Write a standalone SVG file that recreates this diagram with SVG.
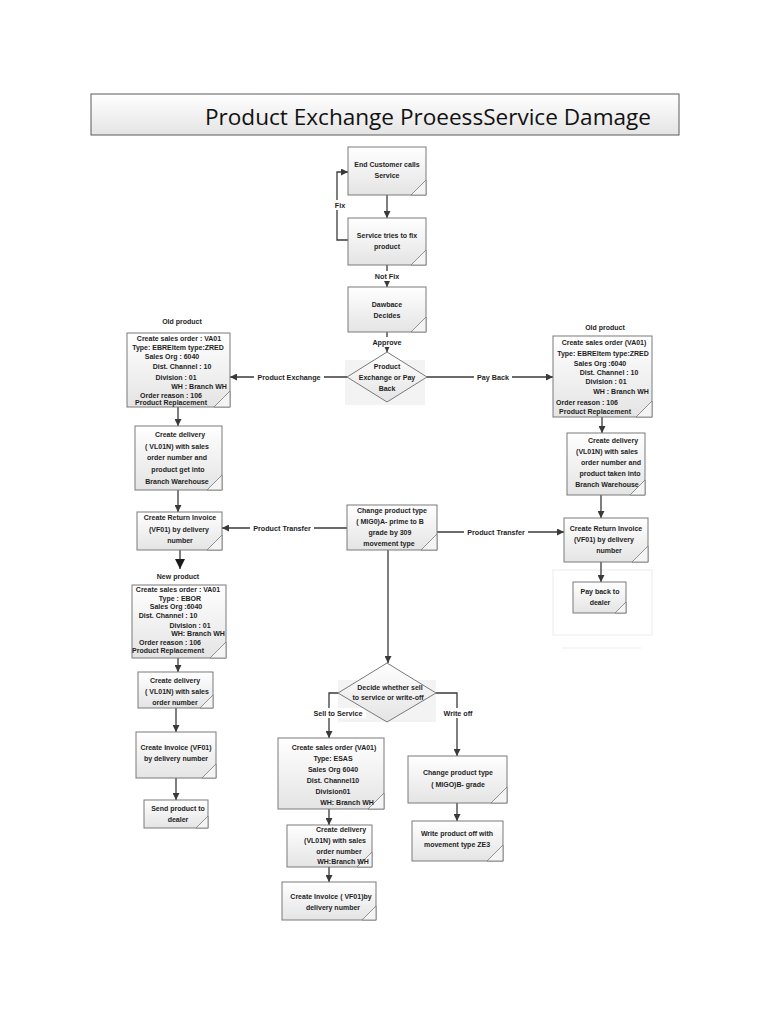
<svg xmlns="http://www.w3.org/2000/svg" width="768" height="1024" viewBox="0 0 768 1024">
<defs>
<linearGradient id="g" x1="0" y1="0" x2="0" y2="1">
<stop offset="0" stop-color="#ffffff"/>
<stop offset="1" stop-color="#e4e4e4"/>
</linearGradient>
<marker id="ah" viewBox="0 0 10 10" refX="10" refY="5" markerWidth="7" markerHeight="7" markerUnits="userSpaceOnUse" orient="auto">
<path d="M0,0 L10,5 L0,10 z" fill="#3a3a3a"/>
</marker>
<marker id="ahb" viewBox="0 0 10 10" refX="10" refY="5" markerWidth="10" markerHeight="10" markerUnits="userSpaceOnUse" orient="auto">
<path d="M0,0 L10,5 L0,10 z" fill="#1a1a1a"/>
</marker>
</defs>
<style>
.box{fill:url(#g);stroke:#7a7a7a;stroke-width:1}
.fold{fill:#f4f4f4;stroke:#7a7a7a;stroke-width:0.8}
.t{font-family:"Liberation Sans",Arial,sans-serif;font-size:7px;font-weight:bold;fill:#1e1e1e;text-anchor:middle}
.lbl{font-family:"Liberation Sans",Arial,sans-serif;font-size:7.2px;font-weight:bold;fill:#1e1e1e;text-anchor:middle}
.ln{fill:none;stroke:#3a3a3a;stroke-width:1.3}
.lb{fill:#ffffff}
.faint{fill:none;stroke:#ececec;stroke-width:1}
</style>
<rect width="768" height="1024" fill="#ffffff"/>

<g id="title">
<rect x="91" y="94" width="588" height="41" fill="url(#g)" stroke="#5a5a5a" stroke-width="1"/>
<text x="205" y="125" font-family="'Open Sans','Liberation Sans',sans-serif" font-size="22.5" fill="#111" textLength="446" lengthAdjust="spacingAndGlyphs">Product Exchange ProeessService Damage</text>
</g>

<g id="faint-shapes">
<rect x="345" y="360" width="80" height="45" fill="#f3f3f3" stroke="none"/>
<rect x="338" y="680" width="98" height="42" fill="#f3f3f3" stroke="none"/>
<rect x="553" y="570" width="99" height="65" class="faint"/>
<line x1="562" y1="648" x2="641" y2="648" class="faint"/>
</g>

<g id="connectors">
<path class="ln" d="M387,195 V218" marker-end="url(#ah)"/>
<path class="ln" d="M348,240 H337 V172 H348" marker-end="url(#ah)"/>
<path class="ln" d="M387,265 V287" marker-end="url(#ah)"/>
<path class="ln" d="M387,332 V352" marker-end="url(#ah)"/>
<path class="ln" d="M347,377 H230" marker-end="url(#ah)"/>
<path class="ln" d="M426,377 H553" marker-end="url(#ah)"/>
<path class="ln" d="M178,407 V426" marker-end="url(#ah)"/>
<path class="ln" d="M178,490 V512" marker-end="url(#ah)"/>
<path class="ln" d="M180,550 V569" marker-end="url(#ahb)"/>
<path class="ln" d="M178,658 V672" marker-end="url(#ah)"/>
<path class="ln" d="M176,708 V732" marker-end="url(#ah)"/>
<path class="ln" d="M176,778 V800" marker-end="url(#ah)"/>
<path class="ln" d="M347,528 H222" marker-end="url(#ah)"/>
<path class="ln" d="M437,532 H564" marker-end="url(#ah)"/>
<path class="ln" d="M388,550 V663" marker-end="url(#ah)"/>
<path class="ln" d="M602,417 V433" marker-end="url(#ah)"/>
<path class="ln" d="M601,495 V518" marker-end="url(#ah)"/>
<path class="ln" d="M601,562 V582" marker-end="url(#ah)"/>
<path class="ln" d="M338,693 H329 V738" marker-end="url(#ah)"/>
<path class="ln" d="M436,693 H457 V756" marker-end="url(#ah)"/>
<path class="ln" d="M329,809 V825" marker-end="url(#ah)"/>
<path class="ln" d="M329,867 V882" marker-end="url(#ah)"/>
<path class="ln" d="M457,803 V821" marker-end="url(#ah)"/>
<rect class="lb" x="334" y="200" width="12" height="10"/>
<text class="lbl" x="340" y="208">Fix</text>
<rect class="lb" x="372" y="271" width="30" height="10"/>
<text class="lbl" x="387" y="279">Not Fix</text>
<rect class="lb" x="368" y="337" width="38" height="10"/>
<text class="lbl" x="387" y="345">Approve</text>
<rect class="lb" x="254" y="372" width="70" height="10"/>
<text class="lbl" x="289" y="380">Product Exchange</text>
<rect class="lb" x="474" y="372" width="38" height="10"/>
<text class="lbl" x="493" y="380">Pay Back</text>
<rect class="lb" x="250" y="523" width="64" height="10"/>
<text class="lbl" x="282" y="531">Product Transfer</text>
<rect class="lb" x="464" y="527" width="64" height="10"/>
<text class="lbl" x="496" y="535">Product Transfer</text>
<rect class="lb" x="310" y="708" width="56" height="10"/>
<text class="lbl" x="338" y="716">Sell to Service</text>
<rect class="lb" x="441" y="708" width="34" height="10"/>
<text class="lbl" x="458" y="716">Write off</text>
</g>

<g id="n-call">
<rect class="box" x="348" y="147" width="78" height="48"/>
<path class="fold" d="M411,195 L426,180 L426,195 z"/>
<text class="t" x="387" y="167">End Customer calls</text>
<text class="t" x="387" y="178">Service</text>
</g>

<g id="n-fix">
<rect class="box" x="348" y="218" width="78" height="47"/>
<path class="fold" d="M411,265 L426,250 L426,265 z"/>
<text class="t" x="387" y="238">Service tries to fix</text>
<text class="t" x="387" y="249">product</text>
</g>

<g id="n-decides">
<rect class="box" x="348" y="287" width="78" height="45"/>
<path class="fold" d="M411,332 L426,317 L426,332 z"/>
<text class="t" x="387" y="307">Dawbace</text>
<text class="t" x="387" y="318">Decides</text>
</g>

<g id="n-decision1">
<polygon points="387,352 427,377 387,402 347,377" fill="url(#g)" stroke="#7a7a7a" stroke-width="1"/>
<text class="t" x="387" y="369">Product</text>
<text class="t" x="387" y="380">Exchange or Pay</text>
<text class="t" x="387" y="391">Back</text>
</g>

<g id="n-old-left">
<text class="t" x="182" y="324">Old product</text>
<rect class="box" x="127" y="333" width="103" height="74"/>
<path class="fold" d="M214,407 L230,391 L230,407 z"/>
<text class="t" x="179" y="341">Create sales order : VA01</text>
<text class="t" x="178" y="350">Type: EBREltem type:ZRED</text>
<text class="t" x="172" y="359">Sales Org : 6040</text>
<text class="t" x="182" y="369">Dist. Channel : 10</text>
<text class="t" x="176" y="380">Division : 01</text>
<text class="t" x="199" y="389">WH : Branch WH</text>
<text class="t" x="171" y="398">Order reason : 106</text>
<text class="t" x="171" y="405">Product Replacement</text>
</g>

<g id="n-deliv-left">
<rect class="box" x="135" y="426" width="87" height="64"/>
<path class="fold" d="M207,490 L222,475 L222,490 z"/>
<text class="t" x="180" y="437">Create delivery</text>
<text class="t" x="177" y="449">( VL01N) with sales</text>
<text class="t" x="177" y="460">order number and</text>
<text class="t" x="178" y="472">product get into</text>
<text class="t" x="177" y="484">Branch Warehouse</text>
</g>

<g id="n-retinv-left">
<rect class="box" x="137" y="512" width="85" height="38"/>
<path class="fold" d="M207,550 L222,535 L222,550 z"/>
<text class="t" x="180" y="520">Create Return Invoice</text>
<text class="t" x="179" y="532">(VF01)  by delivery</text>
<text class="t" x="180" y="543">number</text>
</g>

<g id="n-new">
<text class="t" x="178" y="579">New product</text>
<rect class="box" x="132" y="585" width="94" height="73"/>
<path class="fold" d="M210,658 L226,642 L226,658 z"/>
<text class="t" x="178" y="592">Create sales order : VA01</text>
<text class="t" x="180" y="601">Type    :  EBOR</text>
<text class="t" x="176" y="609">Sales Org :6040</text>
<text class="t" x="168" y="618">Dist. Channel : 10</text>
<text class="t" x="190" y="628">Division : 01</text>
<text class="t" x="198" y="636">WH:  Branch WH</text>
<text class="t" x="170" y="645">Order reason : 106</text>
<text class="t" x="168" y="653">Product Replacement</text>
</g>

<g id="n-deliv-new">
<rect class="box" x="138" y="672" width="75" height="36"/>
<path class="fold" d="M200,708 L213,695 L213,708 z"/>
<text class="t" x="175" y="683">Create delivery</text>
<text class="t" x="177" y="694">( VL01N) with sales</text>
<text class="t" x="175" y="705">order number</text>
</g>

<g id="n-inv-new">
<rect class="box" x="136" y="732" width="80" height="46"/>
<path class="fold" d="M202,778 L216,764 L216,778 z"/>
<text class="t" x="176" y="750">Create Invoice (VF01)</text>
<text class="t" x="176" y="761">by delivery number</text>
</g>

<g id="n-send">
<rect class="box" x="144" y="800" width="64" height="28"/>
<path class="fold" d="M196,828 L208,816 L208,828 z"/>
<text class="t" x="178" y="811">Send product to</text>
<text class="t" x="178" y="822">dealer</text>
</g>

<g id="n-change">
<rect class="box" x="347" y="505" width="90" height="45"/>
<path class="fold" d="M421,550 L437,534 L437,550 z"/>
<text class="t" x="392" y="513">Change product type</text>
<text class="t" x="390" y="524">( MIG0)A- prime to B</text>
<text class="t" x="390" y="535">grade by 309</text>
<text class="t" x="389" y="546">movement type</text>
</g>

<g id="n-old-right">
<text class="t" x="605" y="330">Old product</text>
<rect class="box" x="553" y="336" width="99" height="81"/>
<path class="fold" d="M636,417 L652,401 L652,417 z"/>
<text class="t" x="604" y="345">Create sales order (VA01)</text>
<text class="t" x="603" y="356">Type: EBREltem type:ZRED</text>
<text class="t" x="600" y="366">Sales Org :6040</text>
<text class="t" x="609" y="375">Dist. Channel  : 10</text>
<text class="t" x="606" y="384">Division  : 01</text>
<text class="t" x="621" y="394">WH : Branch WH</text>
<text class="t" x="587" y="405">Order reason : 106</text>
<text class="t" x="595" y="414">Product Replacement</text>
</g>

<g id="n-deliv-right">
<rect class="box" x="567" y="433" width="78" height="62"/>
<path class="fold" d="M630,495 L645,480 L645,495 z"/>
<text class="t" x="613" y="443">Create delivery</text>
<text class="t" x="607" y="454">(VL01N)   with sales</text>
<text class="t" x="611" y="465">order number and</text>
<text class="t" x="610" y="476">product taken into</text>
<text class="t" x="607" y="487">Branch Warehouse</text>
</g>

<g id="n-retinv-right">
<rect class="box" x="564" y="518" width="84" height="44"/>
<path class="fold" d="M632,562 L648,546 L648,562 z"/>
<text class="t" x="606" y="531">Create Return Invoice</text>
<text class="t" x="604" y="542">(VF01)    by delivery</text>
<text class="t" x="609" y="553">number</text>
</g>

<g id="n-payback">
<rect class="box" x="573" y="582" width="53" height="31"/>
<path class="fold" d="M615,613 L626,602 L626,613 z"/>
<text class="t" x="600" y="594">Pay back to</text>
<text class="t" x="600" y="605">dealer</text>
</g>

<g id="n-decision2">
<polygon points="387,663 436,693 387,722 338,693" fill="url(#g)" stroke="#7a7a7a" stroke-width="1"/>
<text class="t" x="390" y="690">Decide whether sell</text>
<text class="t" x="388" y="700">to service or write-off</text>
</g>

<g id="n-sell-order">
<rect class="box" x="278" y="738" width="106" height="71"/>
<path class="fold" d="M368,809 L384,793 L384,809 z"/>
<text class="t" x="334" y="750">Create sales order (VA01)</text>
<text class="t" x="333" y="761">Type: ESAS</text>
<text class="t" x="333" y="772">Sales Org 6040</text>
<text class="t" x="333" y="783">Dist. Channel10</text>
<text class="t" x="333" y="794">Division01</text>
<text class="t" x="347" y="805">WH:   Branch WH</text>
</g>

<g id="n-sell-deliv">
<rect class="box" x="287" y="825" width="85" height="42"/>
<path class="fold" d="M357,867 L372,852 L372,867 z"/>
<text class="t" x="341" y="832">Create delivery</text>
<text class="t" x="335" y="843">(VL01N)    with sales</text>
<text class="t" x="339" y="854">order number</text>
<text class="t" x="343" y="864">WH:Branch WH</text>
</g>

<g id="n-sell-inv">
<rect class="box" x="282" y="882" width="94" height="38"/>
<path class="fold" d="M362,920 L376,906 L376,920 z"/>
<text class="t" x="331" y="899">Create Invoice  ( VF01)by</text>
<text class="t" x="333" y="910">delivery number</text>
</g>

<g id="n-bgrade">
<rect class="box" x="408" y="756" width="99" height="47"/>
<path class="fold" d="M491,803 L507,787 L507,803 z"/>
<text class="t" x="458" y="775">Change product type</text>
<text class="t" x="458" y="787">( MIGO)B- grade</text>
</g>

<g id="n-writeoff">
<rect class="box" x="412" y="821" width="91" height="40"/>
<path class="fold" d="M487,861 L503,845 L503,861 z"/>
<text class="t" x="457" y="836">Write product off with</text>
<text class="t" x="457" y="847">movement type ZE3</text>
</g>
</svg>
